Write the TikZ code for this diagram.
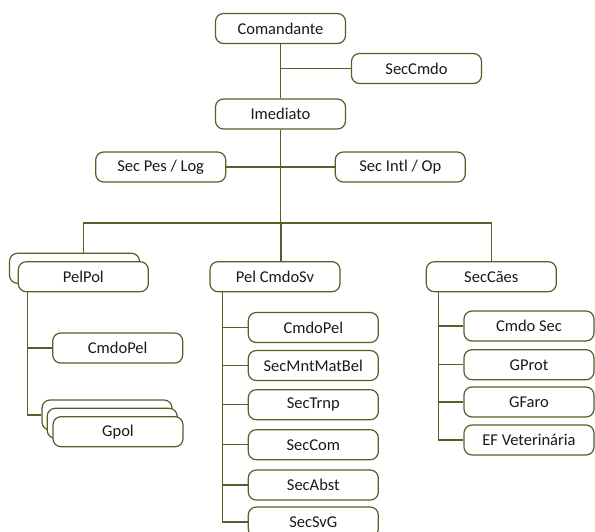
\documentclass[tikz,border=0pt]{standalone}
\usepackage{fontspec}
\setmainfont{Carlito}
\definecolor{orgline}{HTML}{4F6228}
\definecolor{orgtext}{HTML}{1A1A1A}
\tikzset{
  unit/.style={draw=orgline, line width=1.2pt, fill=white, rounded corners=8pt,
    minimum width=130pt, minimum height=30pt, inner sep=0pt,
    text=orgtext, font=\fontsize{16.5}{19}\selectfont},
  link/.style={draw=orgline, line width=1.2pt}
}
\begin{document}
\begin{tikzpicture}[x=1pt, y=-1pt]
\useasboundingbox (0,0) rectangle (595,531);

% command level
\node[unit] (com) at (280.5,28.5) {Comandante};
\node[unit] (seccmdo) at (416.5,68.5) {SecCmdo};
\node[unit] (imed) at (280.5,114) {Imediato};
\node[unit] (pes) at (160.7,167) {Sec Pes / Log};
\node[unit] (intl) at (400.3,167) {Sec Intl / Op};

\coordinate (barL) at (83.3,223);
\coordinate (barM) at (281,223);
\coordinate (barR) at (491.7,223);
\coordinate (trunk) at (280.5,223);

\draw[link] (com.south) -- (imed.north);
\draw[link] (seccmdo.west) -- (seccmdo.west -| com.south);
\draw[link] (imed.south) -- (trunk);
\draw[link] (pes.east) -- (intl.west);
\draw[link] (barL) -- (barR);

% PelPol group
\node[unit] (pelpolback) at (74.5,268.3) {};
\node[unit] (pelpol) at (83.3,276.7) {PelPol};
\draw[link] (barL) -- (barL |- pelpolback.north);
\coordinate (ppTop) at (27.3,291.7);
\coordinate (ppBot) at (27.3,415);
\node[unit] (ppcmdo) at (117.7,348) {CmdoPel};
\node[unit] (gpolA) at (107,415) {};
\node[unit] (gpolB) at (112.2,423.3) {};
\node[unit] (gpol) at (118,431.7) {Gpol};
\draw[link] (ppTop) -- (ppBot) -- (gpolA.west);
\draw[link] (ppcmdo.west) -- (ppcmdo.west -| ppTop);

% Pel CmdoSv group
\node[unit] (cmdosv) at (275,276.7) {Pel CmdoSv};
\draw[link] (barM) -- (barM |- cmdosv.north);
\coordinate (svTop) at (222.3,291.7);
\node[unit] (svcmdo) at (313.3,327.5) {CmdoPel};
\node[unit] (svmnt) at (313.3,365.5) {SecMntMatBel};
\node[unit] (svtrnp) at (313.3,404.7) {SecTrnp};
\node[unit] (svcom) at (313.3,444.7) {SecCom};
\node[unit] (svabst) at (313.3,485) {SecAbst};
\node[unit] (svsvg) at (313.3,522) {SecSvG};
\coordinate (svBot) at (svTop |- svsvg.west);
\draw[link] (svTop) -- (svBot) -- (svsvg.west);
\foreach \n in {svcmdo,svmnt,svtrnp,svcom,svabst}
  \draw[link] (\n.west) -- (\n.west -| svTop);

% SecCaes group
\node[unit] (caes) at (491.3,276.7) {SecCães};
\draw[link] (barR) -- (barR |- caes.north);
\coordinate (cTop) at (438.3,291.7);
\node[unit] (ccmdo) at (529,326) {Cmdo Sec};
\node[unit] (cprot) at (529,364.7) {GProt};
\node[unit] (cfaro) at (529,402) {GFaro};
\node[unit] (cvet) at (529,440) {EF Veterinária};
\coordinate (cBot) at (cTop |- cvet.west);
\draw[link] (cTop) -- (cBot) -- (cvet.west);
\foreach \n in {ccmdo,cprot,cfaro}
  \draw[link] (\n.west) -- (\n.west -| cTop);
\end{tikzpicture}
\end{document}
